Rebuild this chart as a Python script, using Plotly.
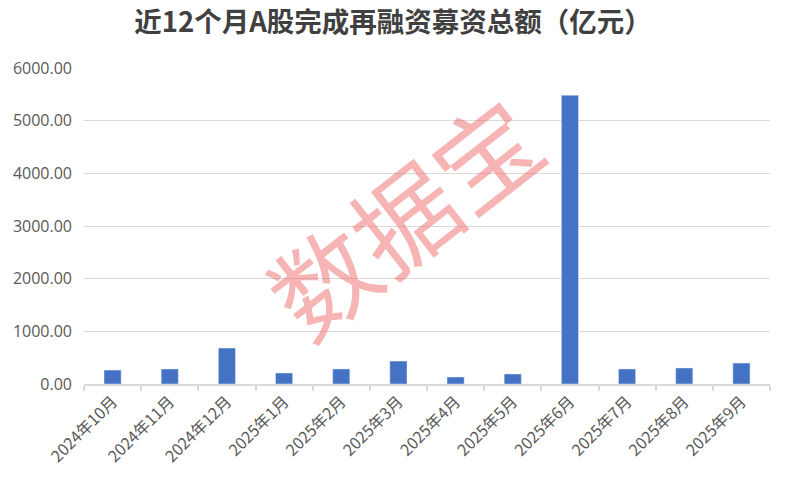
import plotly.graph_objects as go

categories = ["2024年10月", "2024年11月", "2024年12月", "2025年1月", "2025年2月", "2025年3月",
              "2025年4月", "2025年5月", "2025年6月", "2025年7月", "2025年8月", "2025年9月"]
values = [265, 285, 683, 209, 285, 436, 133, 190, 5484, 285, 304, 398]
y_ticks = [0, 1000, 2000, 3000, 4000, 5000, 6000]

font_cjk = "Noto Sans CJK SC, Open Sans, sans-serif"

fig = go.Figure()
fig.add_trace(go.Bar(x=categories, y=values, marker_color="#4472C4", width=0.3))

fig.update_layout(
    width=786, height=489,
    margin=dict(l=84, r=16, t=68, b=105, autoexpand=False),
    paper_bgcolor="white", plot_bgcolor="white",
    showlegend=False,
    title=dict(text="<b>近12个月A股完成再融资募资总额（亿元）</b>", x=0.5, xanchor="center",
               xref="container", y=0.954, yref="container", yanchor="middle", automargin=False,
               font=dict(family=font_cjk, size=27.5, color="#404040")),
    font=dict(family=font_cjk, color="#595959"),
)
fig.update_xaxes(
    type="category", tickangle=-45, tickson="boundaries", automargin=False,
    ticks="outside", ticklen=5, tickcolor="#d9d9d9", tickwidth=2,
    showline=True, linecolor="#d9d9d9", linewidth=2,
    showgrid=False, tickfont=dict(size=16, color="#595959", family=font_cjk),
)
fig.update_yaxes(
    range=[0, 6000], tickvals=y_ticks, tickformat=".2f", automargin=False,
    showgrid=True, gridcolor="#d9d9d9", gridwidth=1, zeroline=False,
    tickfont=dict(size=16, color="#595959", family="Open Sans"),
    ticks="", ticklabelstandoff=11,
)
fig.add_annotation(
    text="数据宝", xref="paper", yref="paper", x=0.465, y=0.535,
    showarrow=False, textangle=-38,
    font=dict(family=font_cjk, size=103, color="rgba(238,105,105,0.5)"),
)
fig.write_html("out.html", config={"displayModeBar": False},
               post_script="document.body.style.margin='0';")
